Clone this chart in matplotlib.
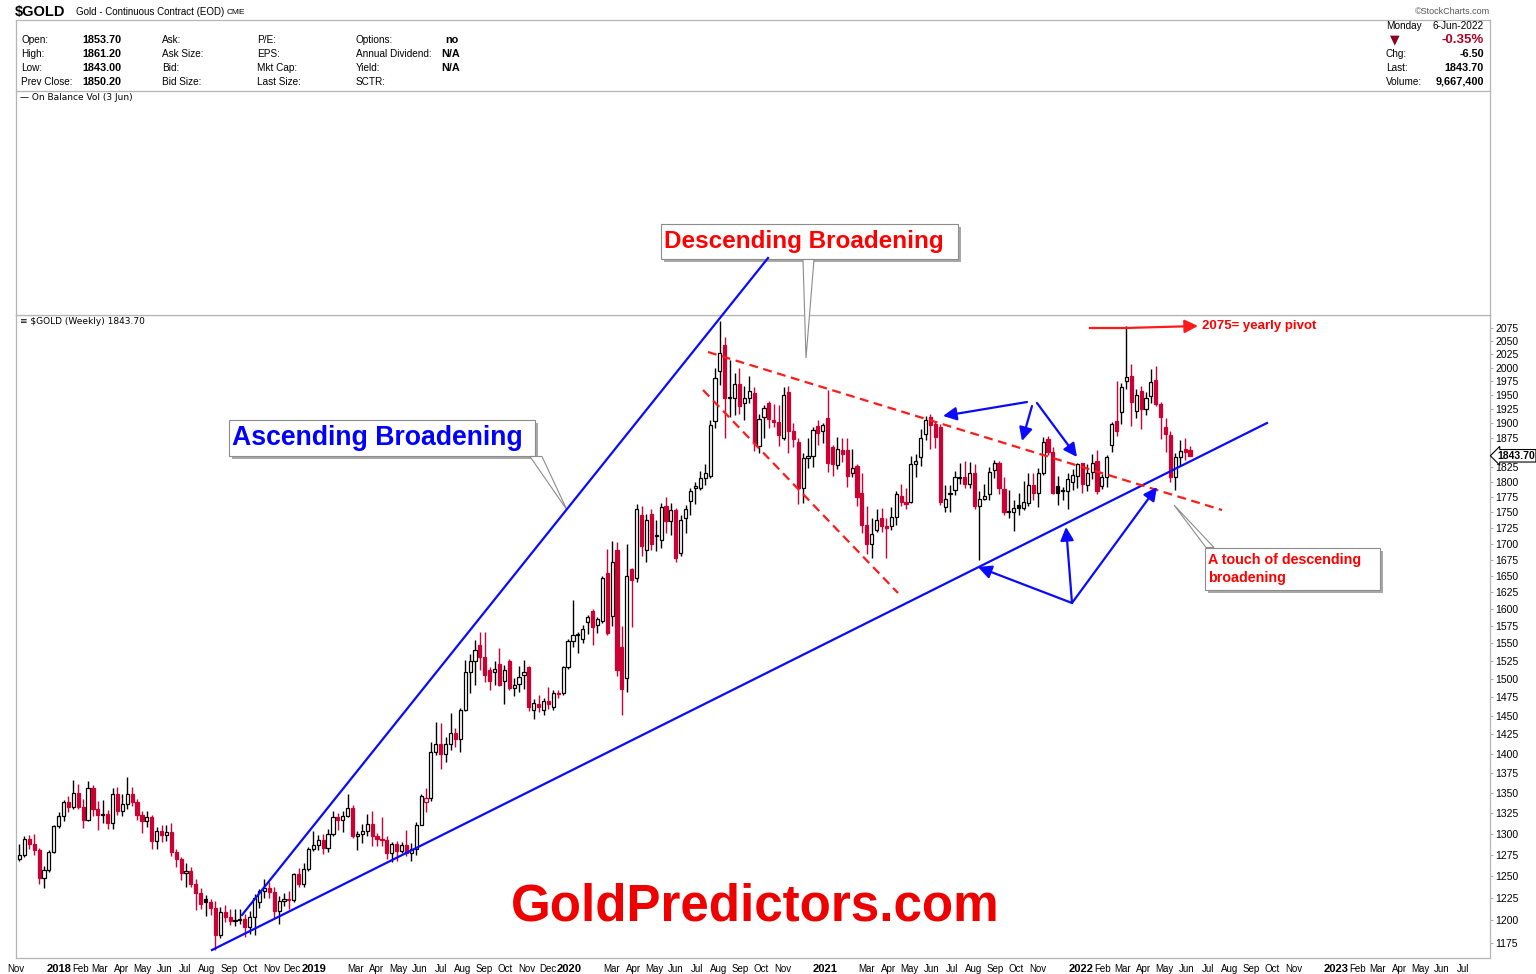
import matplotlib
matplotlib.use("Agg")
import matplotlib.pyplot as plt
import matplotlib.dates as mdates
import pandas as pd
from matplotlib.patches import Rectangle, Polygon
from matplotlib.ticker import NullLocator

plt.rcParams['font.family'] = ['Liberation Sans', 'DejaVu Sans']

# $GOLD weekly candles, first bar = week of 6-Nov-2017
start_week = "2017-11-06"
opens = [
    1270, 1275, 1294, 1288, 1281, 1248, 1257, 1278, 1309, 1322,
    1338, 1333, 1350, 1333, 1316, 1356, 1330, 1323, 1324, 1313,
    1349, 1327, 1336, 1348, 1338, 1323, 1315, 1320, 1291, 1303,
    1298, 1302, 1278, 1270, 1254, 1256, 1241, 1231, 1224, 1220,
    1214, 1184, 1209, 1204, 1199, 1200, 1201, 1193, 1204, 1220,
    1233, 1236, 1232, 1210, 1221, 1224, 1223, 1252, 1241, 1258,
    1282, 1287, 1292, 1283, 1300, 1320, 1316, 1322, 1331, 1297,
    1300, 1303, 1312, 1297, 1294, 1292, 1277, 1288, 1279, 1286,
    1277, 1282, 1311, 1339, 1344, 1402, 1413, 1400, 1412, 1427,
    1419, 1457, 1509, 1525, 1548, 1530, 1513, 1510, 1521, 1497,
    1525, 1488, 1493, 1505, 1517, 1458, 1465, 1458, 1470, 1462,
    1481, 1481, 1517, 1553, 1562, 1557, 1581, 1597, 1576, 1582,
    1654, 1590, 1690, 1545, 1501, 1660, 1647, 1745, 1690, 1747,
    1712, 1705, 1760, 1736, 1753, 1685, 1741, 1768, 1790, 1790,
    1807, 1810, 1904, 1994, 2042, 1945, 1944, 1970, 1936, 1945,
    1953, 1860, 1911, 1935, 1905, 1902, 1875, 1955, 1886, 1868,
    1790, 1840, 1843, 1895, 1886, 1910, 1858, 1828, 1854, 1853,
    1815, 1827, 1782, 1730, 1700, 1722, 1740, 1728, 1727, 1742,
    1777, 1767, 1766, 1829, 1842, 1882, 1911, 1899, 1893, 1759,
    1780, 1786, 1806, 1808, 1797, 1815, 1760, 1771, 1780, 1820,
    1832, 1788, 1751, 1750, 1762, 1757, 1765, 1795, 1781, 1815,
    1872, 1850, 1793, 1786, 1784, 1800, 1810, 1831, 1795, 1817,
    1835, 1793, 1808, 1863, 1904, 1920, 1976, 1985, 1922, 1957,
    1925, 1948, 1977, 1934, 1893, 1880, 1808, 1842, 1855, 1853.7,
]
highs = [
    1288, 1297, 1298, 1300, 1283, 1262, 1280, 1310, 1326, 1341,
    1346, 1366, 1361, 1342, 1365, 1360, 1340, 1341, 1329, 1356,
    1357, 1348, 1370, 1357, 1342, 1327, 1328, 1323, 1308, 1310,
    1310, 1313, 1282, 1272, 1265, 1261, 1247, 1236, 1228, 1224,
    1222, 1215, 1217, 1212, 1212, 1213, 1207, 1210, 1230, 1235,
    1247, 1243, 1238, 1227, 1231, 1233, 1254, 1259, 1265, 1284,
    1303, 1298, 1300, 1305, 1327, 1325, 1328, 1349, 1335, 1303,
    1312, 1324, 1327, 1301, 1320, 1297, 1290, 1291, 1290, 1304,
    1289, 1314, 1349, 1356, 1415, 1442, 1440, 1421, 1453, 1434,
    1460, 1527, 1535, 1555, 1566, 1566, 1517, 1525, 1543, 1519,
    1528, 1501, 1518, 1527, 1518, 1473, 1478, 1474, 1489, 1484,
    1485, 1518, 1557, 1613, 1566, 1576, 1592, 1600, 1589, 1650,
    1691, 1704, 1703, 1575, 1699, 1662, 1764, 1760, 1747, 1755,
    1738, 1765, 1775, 1765, 1756, 1746, 1762, 1789, 1800, 1818,
    1829, 1906, 2000, 2089, 2058, 2015, 1990, 2000, 1966, 1984,
    1965, 1916, 1933, 1939, 1934, 1932, 1965, 1966, 1900, 1875,
    1848, 1875, 1893, 1906, 1900, 1959, 1862, 1876, 1875, 1875,
    1855, 1829, 1815, 1760, 1740, 1755, 1756, 1740, 1758, 1785,
    1797, 1790, 1843, 1847, 1890, 1913, 1917, 1904, 1898, 1795,
    1795, 1818, 1831, 1834, 1833, 1830, 1785, 1796, 1825, 1836,
    1835, 1808, 1786, 1770, 1782, 1801, 1815, 1814, 1823, 1876,
    1878, 1858, 1809, 1792, 1815, 1822, 1832, 1832, 1830, 1847,
    1854, 1813, 1845, 1903, 1976, 1972, 2079, 2007, 1962, 1966,
    1955, 1998, 2003, 1937, 1909, 1886, 1849, 1870, 1874, 1861.2,
]
lows = [
    1268, 1272, 1282, 1275, 1241, 1236, 1255, 1277, 1307, 1315,
    1326, 1330, 1330, 1307, 1315, 1321, 1304, 1313, 1306, 1306,
    1323, 1322, 1330, 1334, 1316, 1301, 1308, 1282, 1282, 1290,
    1291, 1274, 1261, 1246, 1238, 1237, 1211, 1212, 1205, 1206,
    1167, 1180, 1198, 1195, 1194, 1196, 1182, 1185, 1184, 1214,
    1225, 1225, 1202, 1196, 1216, 1212, 1220, 1237, 1238, 1256,
    1279, 1280, 1276, 1278, 1297, 1304, 1302, 1320, 1295, 1280,
    1289, 1297, 1285, 1285, 1285, 1270, 1266, 1268, 1277, 1273,
    1268, 1275, 1310, 1326, 1340, 1398, 1380, 1389, 1405, 1409,
    1402, 1456, 1480, 1492, 1513, 1496, 1485, 1491, 1490, 1465,
    1484, 1477, 1482, 1486, 1456, 1446, 1455, 1451, 1459, 1458,
    1474, 1478, 1514, 1545, 1536, 1551, 1563, 1548, 1565, 1580,
    1562, 1575, 1504, 1451, 1482, 1574, 1641, 1681, 1671, 1690,
    1688, 1693, 1717, 1714, 1671, 1681, 1716, 1745, 1764, 1786,
    1795, 1807, 1892, 1968, 1874, 1911, 1914, 1916, 1906, 1935,
    1851, 1848, 1874, 1891, 1894, 1860, 1870, 1848, 1859, 1764,
    1765, 1823, 1824, 1862, 1866, 1817, 1809, 1822, 1833, 1791,
    1808, 1760, 1717, 1683, 1677, 1718, 1718, 1677, 1721, 1730,
    1760, 1755, 1765, 1808, 1826, 1871, 1855, 1857, 1761, 1750,
    1750, 1778, 1796, 1790, 1790, 1755, 1674, 1770, 1770, 1807,
    1780, 1745, 1740, 1720, 1746, 1754, 1760, 1770, 1758, 1812,
    1845, 1779, 1762, 1770, 1755, 1786, 1790, 1782, 1785, 1805,
    1780, 1788, 1792, 1850, 1878, 1899, 1962, 1895, 1909, 1890,
    1915, 1936, 1930, 1873, 1850, 1799, 1786, 1827, 1836, 1843,
]
closes = [
    1275, 1294, 1288, 1281, 1248, 1257, 1278, 1309, 1322, 1338,
    1333, 1350, 1333, 1316, 1356, 1330, 1323, 1324, 1313, 1349,
    1327, 1336, 1348, 1338, 1323, 1315, 1320, 1291, 1303, 1298,
    1302, 1278, 1270, 1254, 1256, 1241, 1231, 1218, 1220, 1214,
    1184, 1209, 1204, 1199, 1200, 1201, 1193, 1204, 1225, 1233,
    1236, 1232, 1210, 1221, 1224, 1223, 1252, 1241, 1258, 1282,
    1287, 1292, 1283, 1300, 1320, 1316, 1322, 1331, 1297, 1300,
    1303, 1312, 1297, 1294, 1292, 1277, 1288, 1279, 1286, 1277,
    1282, 1311, 1346, 1343, 1402, 1413, 1400, 1412, 1427, 1419,
    1457, 1509, 1525, 1541, 1530, 1506, 1497, 1514, 1492, 1513,
    1488, 1492, 1502, 1510, 1461, 1467, 1462, 1470, 1465, 1481,
    1479, 1517, 1553, 1562, 1563, 1571, 1588, 1573, 1586, 1647,
    1565, 1671, 1512, 1486, 1650, 1643, 1755, 1696, 1738, 1700,
    1714, 1758, 1736, 1753, 1678, 1738, 1755, 1785, 1793, 1807,
    1814, 1897, 1981, 2027, 1945, 1947, 1970, 1930, 1944, 1957,
    1865, 1908, 1927, 1908, 1902, 1879, 1950, 1886, 1872, 1790,
    1840, 1843, 1888, 1883, 1897, 1832, 1830, 1855, 1847, 1810,
    1823, 1775, 1730, 1700, 1715, 1737, 1727, 1725, 1742, 1779,
    1766, 1764, 1829, 1834, 1875, 1905, 1897, 1876, 1766, 1771,
    1782, 1808, 1808, 1797, 1815, 1760, 1771, 1776, 1817, 1832,
    1789, 1750, 1752, 1757, 1757, 1766, 1795, 1781, 1815, 1868,
    1850, 1781, 1781, 1784, 1805, 1812, 1830, 1797, 1815, 1832,
    1784, 1808, 1842, 1899, 1887, 1964, 1983, 1937, 1951, 1925,
    1945, 1973, 1934, 1911, 1882, 1808, 1842, 1851.3, 1850.2, 1843.7,
]

tick_dates = [
    "2017-11-01",
    "2018-01-01", "2018-02-01", "2018-03-01", "2018-04-01", "2018-05-01", "2018-06-01",
    "2018-07-01", "2018-08-01", "2018-09-01", "2018-10-01", "2018-11-01", "2018-12-01",
    "2019-01-01", "2019-03-01", "2019-04-01", "2019-05-01", "2019-06-01", "2019-07-01",
    "2019-08-01", "2019-09-01", "2019-10-01", "2019-11-01", "2019-12-01",
    "2020-01-01", "2020-03-01", "2020-04-01", "2020-05-01", "2020-06-01", "2020-07-01",
    "2020-08-01", "2020-09-01", "2020-10-01", "2020-11-01",
    "2021-01-01", "2021-03-01", "2021-04-01", "2021-05-01", "2021-06-01", "2021-07-01",
    "2021-08-01", "2021-09-01", "2021-10-01", "2021-11-01",
    "2022-01-01", "2022-02-01", "2022-03-01", "2022-04-01", "2022-05-01", "2022-06-01",
    "2022-07-01", "2022-08-01", "2022-09-01", "2022-10-01", "2022-11-01",
    "2023-01-01", "2023-02-01", "2023-03-01", "2023-04-01", "2023-05-01", "2023-06-01",
    "2023-07-01",
]
tick_labels = [
    "Nov",
    "2018", "Feb", "Mar", "Apr", "May", "Jun", "Jul", "Aug", "Sep", "Oct", "Nov", "Dec",
    "2019", "Mar", "Apr", "May", "Jun", "Jul", "Aug", "Sep", "Oct", "Nov", "Dec",
    "2020", "Mar", "Apr", "May", "Jun", "Jul", "Aug", "Sep", "Oct", "Nov",
    "2021", "Mar", "Apr", "May", "Jun", "Jul", "Aug", "Sep", "Oct", "Nov",
    "2022", "Feb", "Mar", "Apr", "May", "Jun", "Jul", "Aug", "Sep", "Oct", "Nov",
    "2023", "Feb", "Mar", "Apr", "May", "Jun", "Jul",
]
# 1850 sits under the last-price flag, so it is left out
price_ticks = [1175, 1200, 1225, 1250, 1275, 1300, 1325, 1350, 1375, 1400, 1425,
               1450, 1475, 1500, 1525, 1550, 1575, 1600, 1625, 1650, 1675, 1700,
               1725, 1750, 1775, 1800, 1825, 1875, 1900, 1925, 1950, 1975, 2000,
               2025, 2050, 2075]

RED = "#cc0033"
BLUE = "#0a0aff"
W, H = 1536, 974


def frac(x0, y0, x1, y1):
    return [x0 / W, 1 - y1 / H, (x1 - x0) / W, (y1 - y0) / H]


fig = plt.figure(figsize=(W / 100, H / 100), dpi=100)
fig.patch.set_facecolor("white")

# ---- price panel
ax = fig.add_axes(frac(16, 315, 1490, 958))
weeks = pd.date_range(start_week, periods=len(closes), freq="7D")
xs = mdates.date2num(weeks)
bw = 4.5
prev = [opens[0]] + closes[:-1]
for x, o, h, l, c, pc in zip(xs, opens, highs, lows, closes, prev):
    col = RED if c < pc else "black"
    ax.vlines(x, l, h, color=col, lw=1.0, zorder=2)
    face = "white" if c >= o else col
    ax.add_patch(Rectangle((x - bw / 2, min(o, c)), bw, abs(c - o),
                           fc=face, ec=col, lw=0.9, zorder=3))

ax.set_yscale("log")
ax.set_ylim(1158.8, 2100)
t0 = xs[0]
ax.set_xlim(t0 - 0.204 * 7, t0 + 300.24 * 7)
ax.set_yticks(price_ticks)
ax.set_yticklabels([str(p) for p in price_ticks])
ax.yaxis.set_minor_locator(NullLocator())
ax.yaxis.tick_right()
ax.tick_params(axis="y", length=2, color="#aaaaaa", labelsize=7.5, pad=2)
ax.set_xticks(mdates.date2num(pd.to_datetime(tick_dates)))
ax.set_xticklabels(tick_labels)
ax.tick_params(axis="x", length=0, labelsize=7, pad=4)
for lab in ax.get_xticklabels():
    if lab.get_text().isdigit():
        lab.set_fontweight("bold")
        lab.set_fontsize(8)
for s in ax.spines.values():
    s.set_color("#b5b5b5")
    s.set_linewidth(0.9)
ax.spines["bottom"].set_linestyle((0, (1, 1)))

ax.annotate("1843.70", xy=(1.0, closes[-1]), xycoords=("axes fraction", "data"),
            xytext=(5, 0), textcoords="offset points", ha="left", va="center",
            fontsize=7.5, fontweight="bold",
            bbox=dict(boxstyle="larrow,pad=0.12", fc="white", ec="black", lw=0.8),
            annotation_clip=False, zorder=10)

# ---- empty On Balance Volume panel
obv = fig.add_axes(frac(16, 91, 1490, 315))
obv.set_xticks([])
obv.set_yticks([])
for s in obv.spines.values():
    s.set_color("#b5b5b5")
    s.set_linewidth(0.9)

# ---- overlay for header and drawings (pixel coords)
ov = fig.add_axes([0, 0, 1, 1])
ov.set_xlim(0, W)
ov.set_ylim(H, 0)
ov.axis("off")

ov.plot([16, 1490], [20, 20], color="#b5b5b5", lw=0.9)
ov.plot([16, 16], [20, 91], color="#b5b5b5", lw=0.9)
ov.plot([1490, 1490], [20, 91], color="#b5b5b5", lw=0.9)

ov.text(15, 12, "$GOLD", fontsize=10.5, fontweight="bold", va="center")
ov.text(76, 12, "Gold - Continuous Contract (EOD)", fontsize=7, va="center")
ov.text(227, 12.5, "CME", fontsize=6, va="center")
ov.text(1490, 11, "\u00a9StockCharts.com", fontsize=6.5, color="#555555",
        ha="right", va="center")

rows_y = [40, 54, 68, 82]
for y, a, b in zip(rows_y, ["Open:", "High:", "Low:", "Prev Close:"],
                   ["1853.70", "1861.20", "1843.00", "1850.20"]):
    ov.text(21, y, a, fontsize=7.2, va="center")
    ov.text(82, y, b, fontsize=7.8, fontweight="bold", va="center")
for y, a in zip(rows_y, ["Ask:", "Ask Size:", "Bid:", "Bid Size:"]):
    ov.text(162, y, a, fontsize=7.2, va="center")
for y, a in zip(rows_y, ["P/E:", "EPS:", "Mkt Cap:", "Last Size:"]):
    ov.text(257, y, a, fontsize=7.2, va="center")
for y, a in zip(rows_y, ["Options:", "Annual Dividend:", "Yield:", "SCTR:"]):
    ov.text(356, y, a, fontsize=7.2, va="center")
ov.text(459, 40, "no", fontsize=7.8, fontweight="bold", va="center", ha="right")
ov.text(441, 54, "N/A", fontsize=7.8, fontweight="bold", va="center")
ov.text(441, 68, "N/A", fontsize=7.8, fontweight="bold", va="center")

ov.text(1386, 26, "Monday", fontsize=7.2, va="center")
ov.text(1484, 26, "6-Jun-2022", fontsize=7.2, va="center", ha="right")
ov.text(1395, 40, "\u25bc", fontsize=9, color="#8b0022", va="center", ha="center",
        family="DejaVu Sans")
ov.text(1484, 40, "-0.35%", fontsize=9.5, fontweight="bold", color="#b0002a",
        va="center", ha="right")
for y, a, b in zip([54, 68, 82], ["Chg:", "Last:", "Volume:"],
                   ["-6.50", "1843.70", "9,667,400"]):
    ov.text(1386, y, a, fontsize=7.2, va="center")
    ov.text(1484, y, b, fontsize=7.8, fontweight="bold", va="center", ha="right")

ov.text(20, 97, "\u2014 On Balance Vol (3 Jun)", fontsize=6.5, va="center",
        family="DejaVu Sans")
ov.text(20, 321, "\u2261 $GOLD (Weekly) 1843.70", fontsize=6.5, va="center",
        family="DejaVu Sans")

# trend lines
ov.plot([242, 768], [915, 258], color=BLUE, lw=1.6)
ov.plot([212, 1267], [950, 423], color=BLUE, lw=1.6)
ov.plot([708, 1222], [352, 510], color="#ff1a1a", lw=1.6, dashes=(4, 2.5))
ov.plot([703, 898], [390, 593], color="#ff1a1a", lw=1.6, dashes=(4, 2.5))


def arrow(tail, head, color=BLUE):
    ov.annotate("", xy=head, xytext=tail,
                arrowprops=dict(arrowstyle="-|>", color=color, lw=1.6,
                                mutation_scale=20, shrinkA=0, shrinkB=0))


arrow((1027, 402), (943, 416))
arrow((1032, 406), (1022, 441))
arrow((1037, 403), (1077, 457))
arrow((1072, 603), (978, 567))
arrow((1072, 603), (1066, 527))
arrow((1072, 603), (1157, 487))
ov.plot([1090, 1125], [328, 328], color="#ff1a1a", lw=1.6)
arrow((1125, 328), (1198, 326), color="#ff1a1a")
ov.text(1202, 326, "2075= yearly pivot", fontsize=9.5, fontweight="bold",
        color="#ff0000", va="center")


def callout(x0, y0, x1, y1, tip):
    ov.add_patch(Rectangle((x0 + 3, y0 + 3), x1 - x0, y1 - y0, fc="#a8a8a8", ec="none"))
    ov.add_patch(Rectangle((x0, y0), x1 - x0, y1 - y0, fc="white", ec="#8c8c8c", lw=0.8))
    ov.add_patch(Polygon(tip, closed=True, fc="white", ec="#8c8c8c", lw=0.8))


callout(661, 224, 958, 259, [(803, 259.5), (814, 259.5), (806, 358)])
ov.text(664, 241.5, "Descending Broadening", fontsize=17.5, fontweight="bold",
        color="#ff0000", va="center")
callout(229, 420, 535, 456, [(530, 456.5), (542, 456.5), (567, 510)])
ov.text(232, 438, "Ascending Broadening", fontsize=19.2, fontweight="bold",
        color="#0000ff", va="center")
callout(1205, 548, 1380, 590, [(1206, 547.5), (1214, 547.5), (1174, 505)])
ov.text(1208, 560, "A touch of descending", fontsize=10.3, fontweight="bold",
        color="#ff0000", va="center")
ov.text(1208, 578, "broadening", fontsize=10.3, fontweight="bold",
        color="#ff0000", va="center")

ov.text(755, 907, "GoldPredictors.com", fontsize=36.8, fontweight="bold",
        color="#ee0000", ha="center", va="center")

fig.savefig("out.png", dpi=100)
